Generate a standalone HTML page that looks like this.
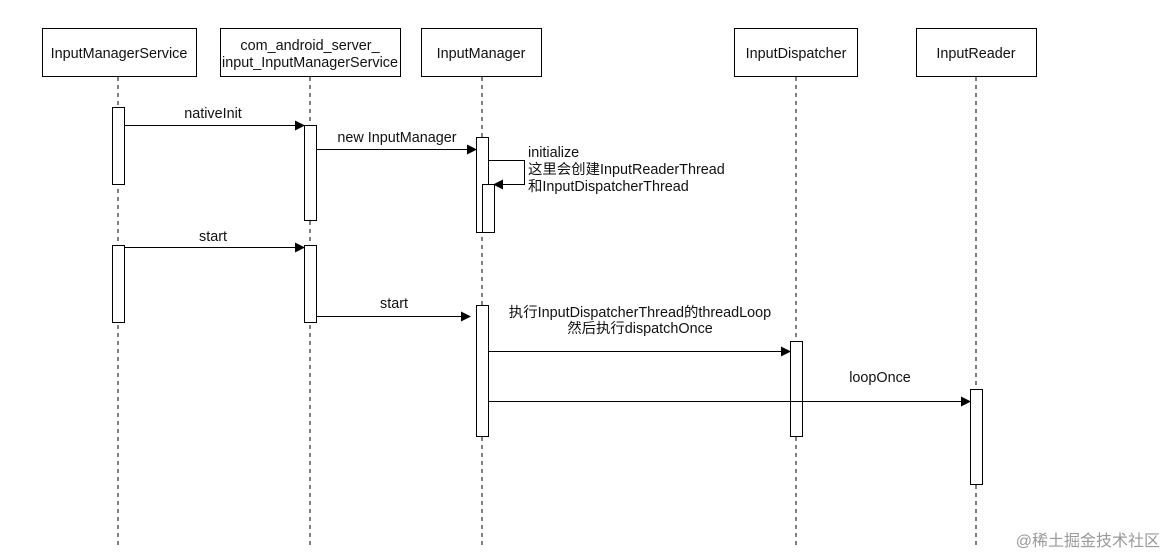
<!DOCTYPE html><html><head><meta charset="utf-8"><style>body{margin:0;background:#fff}svg{display:block}text{font-family:"Liberation Sans","Noto Sans CJK SC",sans-serif;font-size:14.4px;fill:#111}</style></head><body>
<svg width="1167" height="557" viewBox="0 0 1167 557">
<defs><marker id="a" markerWidth="10" markerHeight="10" refX="9" refY="5" orient="auto" markerUnits="userSpaceOnUse"><path d="M0,0 L10,5 L0,10 z" fill="#000"/></marker></defs>
<g stroke="#000" stroke-dasharray="4,4" stroke-width="1">
<line x1="118" y1="77" x2="118" y2="545"/><line x1="310" y1="77" x2="310" y2="545"/><line x1="482" y1="77" x2="482" y2="545"/><line x1="796" y1="77" x2="796" y2="545"/><line x1="976" y1="77" x2="976" y2="545"/></g>
<g fill="#fff" stroke="#000" stroke-width="1">
<rect x="42.5" y="28.5" width="154" height="48"/><rect x="220.5" y="28.5" width="180" height="48"/><rect x="421.5" y="28.5" width="120" height="48"/><rect x="734.5" y="28.5" width="123" height="48"/><rect x="916.5" y="28.5" width="120" height="48"/>
<rect x="112.5" y="107.5" width="12" height="77"/><rect x="112.5" y="245.5" width="12" height="77"/>
<rect x="304.5" y="125.5" width="12" height="95"/><rect x="304.5" y="245.5" width="12" height="77"/>
<rect x="476.5" y="137.5" width="12" height="95"/><rect x="482.5" y="184.5" width="12" height="48"/>
<rect x="476.5" y="305.5" width="12" height="131"/><rect x="790.5" y="341.5" width="12" height="95"/><rect x="970.5" y="389.5" width="12" height="95"/></g>
<g stroke="#000" fill="none" marker-end="url(#a)">
<line x1="124" y1="125.5" x2="304" y2="125.5"/><line x1="316" y1="149.5" x2="476" y2="149.5"/>
<polyline points="488,160.5 524.5,160.5 524.5,184.5 494,184.5"/>
<line x1="124" y1="247.5" x2="304" y2="247.5"/><line x1="316" y1="316.5" x2="470" y2="316.5"/>
<line x1="488" y1="351.5" x2="790" y2="351.5"/><line x1="488" y1="401.5" x2="970" y2="401.5"/></g>
<g text-anchor="middle">
<text x="119" y="58">InputManagerService</text><text x="310" y="50">com_android_server_</text><text x="310" y="67">input_InputManagerService</text>
<text x="481" y="58">InputManager</text><text x="796" y="58">InputDispatcher</text><text x="976" y="58">InputReader</text>
<text x="213" y="118">nativeInit</text><text x="397" y="142">new  InputManager</text>
<text x="213" y="241">start</text><text x="394" y="308">start</text>
<text x="640" y="317">执行InputDispatcherThread的threadLoop</text><text x="640" y="333">然后执行dispatchOnce</text>
<text x="880" y="382">loopOnce</text></g>
<text x="528" y="157">initialize</text><text x="528" y="174">这里会创建InputReaderThread</text><text x="528" y="191">和InputDispatcherThread</text>
<text x="1160" y="546" text-anchor="end" style="font-size:16px;fill:#999">@稀土掘金技术社区</text>
</svg></body></html>
